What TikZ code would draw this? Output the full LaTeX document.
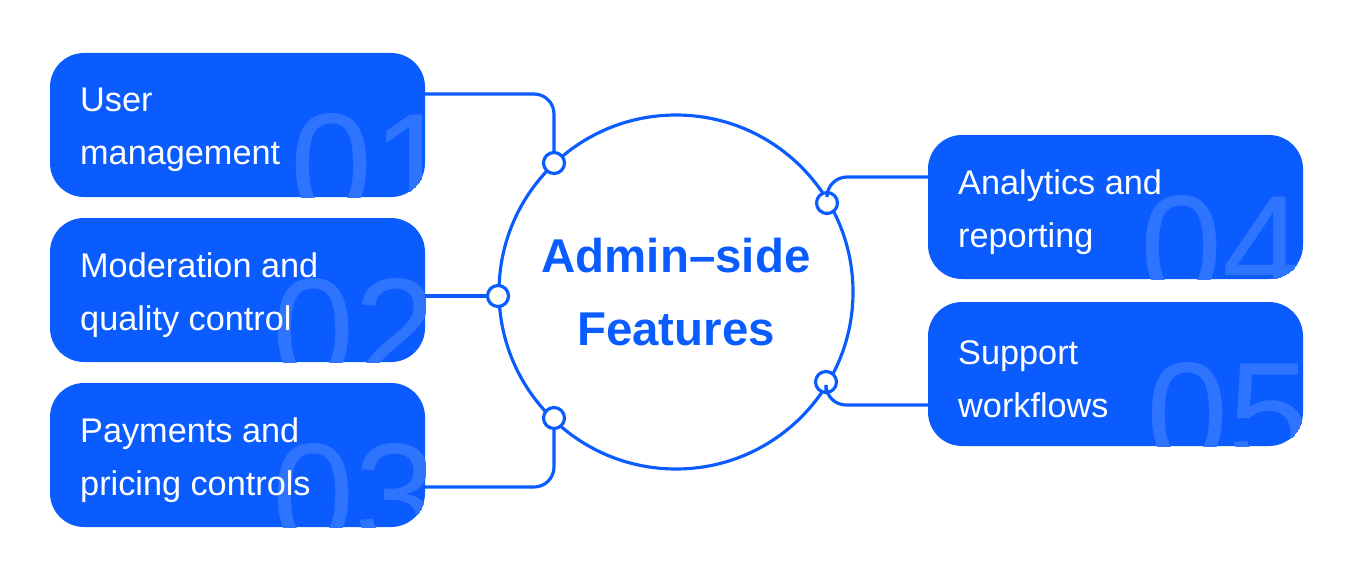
\documentclass[tikz,border=0pt]{standalone}
\usepackage{fontspec}
\setmainfont{Liberation Sans}
\definecolor{brand}{HTML}{0A5CFF}
\definecolor{digit}{HTML}{2F74FF}
\tikzset{
  card/.style={fill=brand, rounded corners=34\unit},
  label/.style={anchor=west, align=left, text=white, font=\fontsize{19.5}{30}\selectfont},
  bignum/.style={anchor=north west, text=digit, inner sep=0pt, font=\fontsize{84}{84}\selectfont},
  link/.style={draw=brand, line width=1.8pt, rounded corners=20\unit},
  dot/.style={circle, draw=brand, line width=1.8pt, fill=white, minimum size=21\unit, inner sep=0pt},
}
\newlength{\unit}\setlength{\unit}{0.02cm}
\begin{document}
\begin{tikzpicture}[x=0.02cm, y=-0.02cm]
  \useasboundingbox (0,0) rectangle (1352,581);
  % Cards with faded numbers
  \foreach \name/\xa/\ya/\num/\dx/\txt in {u/50/53/01/240/{User\\management},
      m/50/218/02/222/{Moderation and\\quality control},
      p/50/383/03/222/{Payments and\\pricing controls},
      a/928/135/04/212/{Analytics and\\reporting},
      s/928/302/05/218/{Support\\workflows}} {
    \begin{scope}
      \path[card] (\xa,\ya) rectangle ++(375,144);
      \clip[rounded corners=34\unit] (\xa,\ya) rectangle ++(375,144);
      \node[bignum] at ([shift={(\dx,60)}]\xa,\ya) {\num};
    \end{scope}
    \node[label] (\name) at ([shift={(24,77)}]\xa,\ya) {\txt};
  }
  % Centre
  \node[circle, draw=brand, line width=1.8pt, minimum size=354\unit, align=center,
        text=brand, font=\bfseries\fontsize{27}{42}\selectfont] (hub) at (676,292)
        {Admin–side\\Features};
  % Anchor dots on the circle
  \node[dot] (d1) at (554,163) {};
  \node[dot] (d2) at (498,296) {};
  \node[dot] (d3) at (554,418) {};
  \node[dot] (d4) at (827,203) {};
  \node[dot] (d5) at (826,382) {};
  % Connectors
  \coordinate (e1) at (425,94);
  \coordinate (e2) at (425,296);
  \coordinate (e3) at (425,487);
  \coordinate (e4) at (928,177);
  \coordinate (e5) at (928,405);
  \path[link] (e1) -| (d1.north);
  \path[link] (e2) -- (d2.west);
  \path[link] (e3) -| (d3.south);
  \path[link] (e4) -| (d4.north);
  \path[link] (e5) -| (d5.south);
\end{tikzpicture}
\end{document}
